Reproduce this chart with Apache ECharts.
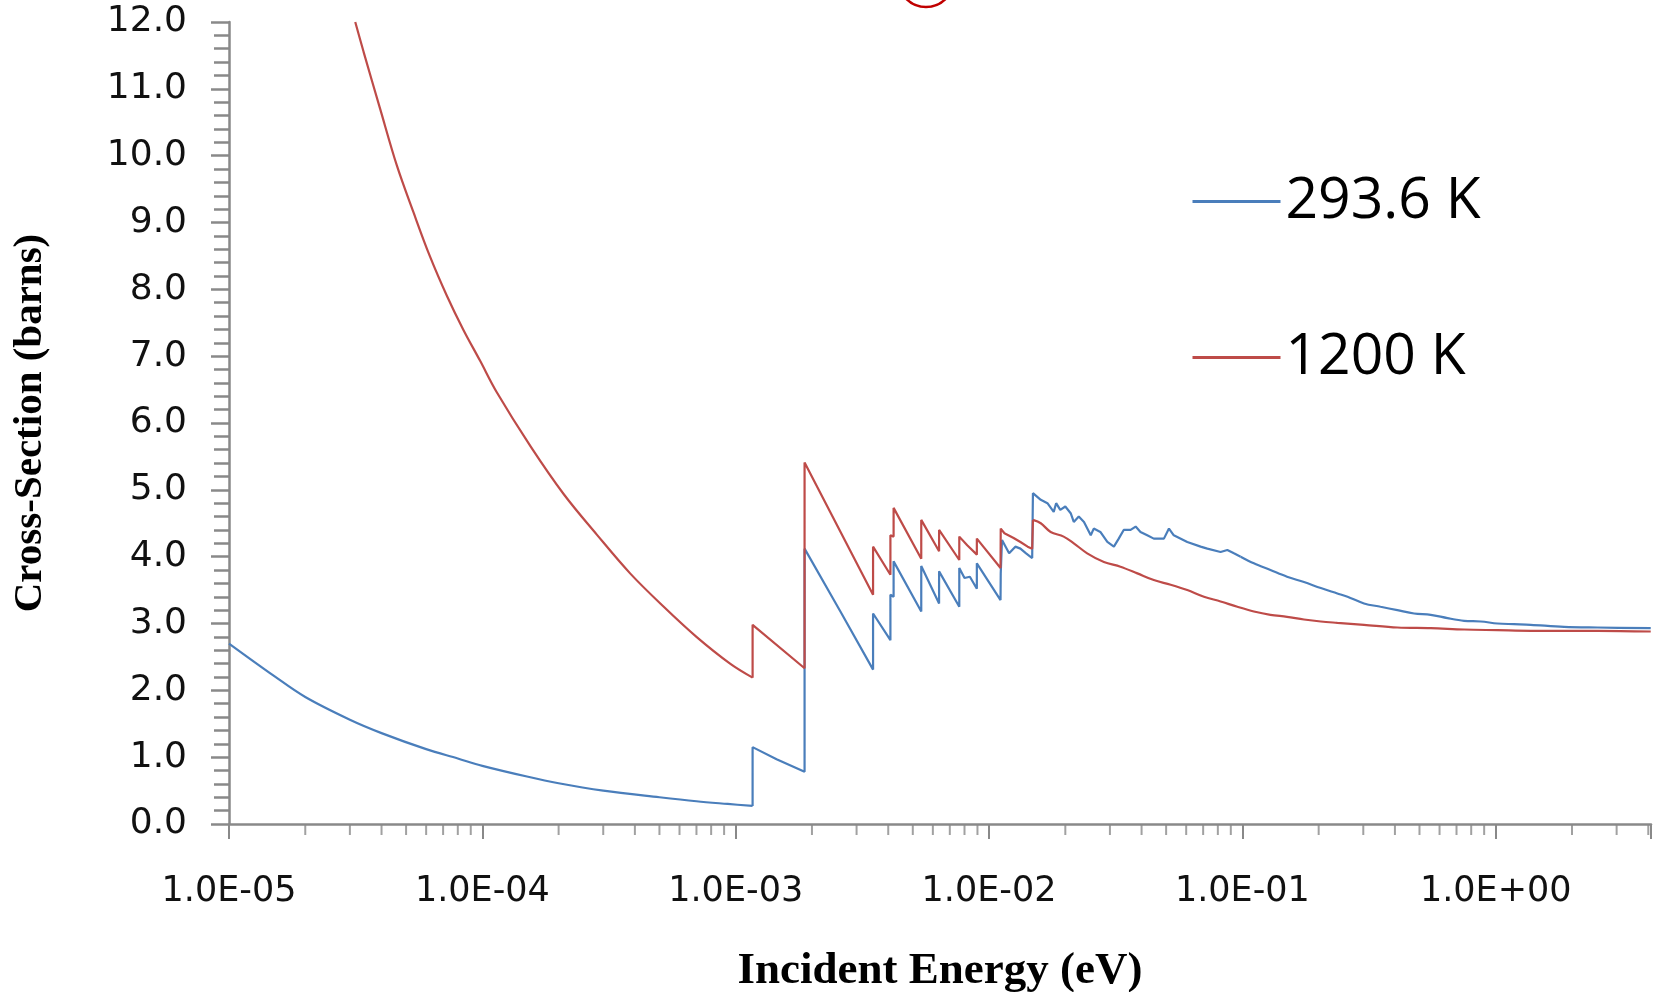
<!DOCTYPE html>
<html><head><meta charset="utf-8">
<script src="https://cdn.jsdelivr.net/npm/echarts@6/dist/echarts.min.js"></script>
<style>html,body{margin:0;padding:0;background:#fff}#c{width:1653px;height:992px}</style>
</head><body><div id="c"></div>
<script>
// ---- data ----
const seriesNames = ['293.6 K', '1200 K'];

const blueE = [1e-5,1.5e-5,2e-5,3e-5,4e-5,6e-5,8e-5,1e-4,1.5e-4,2e-4,3e-4,5e-4,7e-4,9.3e-4,
  1.166e-3,1.166e-3,1.45e-3,1.87e-3,1.87e-3,2.59e-3,3.485e-3,3.485e-3,4.08e-3,4.08e-3,4.2e-3,4.2e-3,
  5.4e-3,5.4e-3,6.35e-3,6.35e-3,7.63e-3,7.63e-3,8.0e-3,8.4e-3,8.95e-3,8.95e-3,
  1.11e-2,1.112e-2,1.125e-2,1.2e-2,1.27e-2,1.33e-2,1.40e-2,1.48e-2,1.49e-2,
  1.6e-2,1.70e-2,1.80e-2,1.84e-2,1.91e-2,2.0e-2,2.10e-2,2.16e-2,2.26e-2,2.37e-2,2.52e-2,2.59e-2,2.75e-2,
  2.93e-2,3.11e-2,3.25e-2,3.40e-2,3.62e-2,3.79e-2,3.96e-2,4.21e-2,4.47e-2,4.9e-2,5.13e-2,5.36e-2,
  6.06e-2,6.84e-2,7.27e-2,8.2e-2,8.72e-2,9.26e-2,9.84e-2,0.111,0.129,0.150,0.175,0.204,0.237,0.26,
  0.302,0.351,0.409,0.476,0.554,0.645,0.75,0.873,1.016,1.18,1.374,1.86,2.52,4.09];
const blueXS = [2.70,2.22,1.90,1.56,1.36,1.12,0.98,0.87,0.71,0.61,0.50,0.40,0.34,0.30,
  0.27,1.15,0.97,0.78,4.12,3.18,2.31,3.15,2.75,3.43,3.40,3.93,
  3.18,3.86,3.30,3.78,3.25,3.83,3.68,3.70,3.52,3.90,
  3.35,3.75,4.25,4.05,4.15,4.12,4.05,3.98,4.95,
  4.85,4.80,4.67,4.80,4.70,4.75,4.65,4.52,4.60,4.52,4.32,4.42,4.37,
  4.22,4.15,4.27,4.40,4.40,4.45,4.37,4.32,4.27,4.27,4.42,4.32,
  4.22,4.15,4.12,4.07,4.10,4.05,4.00,3.90,3.80,3.70,3.62,3.53,3.45,3.40,
  3.30,3.25,3.20,3.15,3.13,3.08,3.04,3.03,3.00,2.99,2.98,2.95,2.94,2.93];

const redE = [3.15e-5,3.4e-5,3.95e-5,4.6e-5,5.35e-5,6.2e-5,7.25e-5,8.4e-5,9.8e-5,1.14e-4,1.55e-4,2.1e-4,
  2.83e-4,3.83e-4,5.2e-4,7.0e-4,9.5e-4,1.166e-3,1.166e-3,1.87e-3,1.87e-3,3.485e-3,3.485e-3,
  4.08e-3,4.08e-3,4.2e-3,4.2e-3,5.4e-3,5.4e-3,6.35e-3,6.35e-3,7.63e-3,7.63e-3,8.2e-3,8.95e-3,8.95e-3,
  1.11e-2,1.112e-2,1.15e-2,1.25e-2,1.33e-2,1.42e-2,1.48e-2,1.49e-2,
  1.6e-2,1.75e-2,1.97e-2,2.16e-2,2.44e-2,2.84e-2,3.3e-2,3.85e-2,4.47e-2,5.21e-2,6.06e-2,7.05e-2,
  8.2e-2,9.55e-2,0.111,0.129,0.150,0.175,0.204,0.237,0.302,0.409,0.554,0.75,1.016,1.374,2.52,4.09];
const redXS = [12.0,11.55,10.7,9.85,9.15,8.5,7.9,7.4,6.93,6.46,5.65,4.93,
  4.33,3.75,3.25,2.80,2.40,2.19,2.98,2.33,5.41,3.43,4.15,
  3.73,4.32,4.30,4.73,3.97,4.55,4.08,4.40,3.95,4.30,4.17,4.03,4.27,
  3.83,4.42,4.35,4.28,4.22,4.15,4.12,4.55,
  4.50,4.37,4.30,4.20,4.05,3.92,3.85,3.75,3.65,3.58,3.50,3.40,
  3.33,3.25,3.18,3.13,3.10,3.06,3.03,3.01,2.98,2.94,2.93,2.91,2.90,2.89,2.89,2.88];

// energies where the smooth parts of each curve meet the Bragg-edge part
const blueBreaks = [1.166e-3, 9.84e-2];
const redBreaks = [1.166e-3, 1.49e-2];

// minor tick positions of the logarithmic energy axis
const minorTickE = [2e-5,3e-5,4e-5,5e-5,6e-5,7e-5,8e-5,9e-5,
  2e-4,3e-4,4e-4,5e-4,6e-4,7e-4,8e-4,9e-4,
  2e-3,3e-3,4e-3,5e-3,6e-3,7e-3,8e-3,9e-3,
  2e-2,3e-2,4e-2,5e-2,6e-2,7e-2,8e-2,9e-2,
  0.2,0.3,0.4,0.5,0.6,0.7,0.8,0.9,
  2,3,4];

const xMin = 1e-5, xMax = 4.1, yMin = 0, yMax = 12, yInterval = 1;

// ---- chart ----
const zip = (a, b) => a.map((v, i) => [v, b[i]]);
function splitAt(E, XS, breaks) {
  const pts = zip(E, XS);
  const idx = breaks.map(b => E.indexOf(b));
  const segs = [];
  let start = 0;
  idx.forEach(i => { segs.push(pts.slice(start, i + 1)); start = i; });
  segs.push(pts.slice(start));
  return segs;
}
function fmtE(v) {
  const e = Math.round(Math.log10(v));
  if (Math.abs(v / Math.pow(10, e) - 1) > 1e-6) return '';
  const a = Math.abs(e);
  return '1.0E' + (e < 0 ? '-' : '+') + (a < 10 ? '0' : '') + a;
}
const axisGrey = '#898989';
const colors = ['#4a7ebb', '#be4b48'];
const smoothFlags = [0.35, false, 0.35];
function curveSeries(name, color, segs, z) {
  return segs.map((d, k) => ({
    name: name, type: 'line', data: d, showSymbol: false, symbol: 'none',
    smooth: smoothFlags[k], lineStyle: {color: color, width: 2.2}, itemStyle: {color: color}, z: z
  }));
}

const chart = echarts.init(document.getElementById('c'), null, {renderer: 'canvas'});
chart.setOption({
  animation: false,
  backgroundColor: '#ffffff',
  grid: {left: 229, right: 2, top: 22, bottom: 168, containLabel: false, outerBoundsMode: 'none'},
  xAxis: {
    type: 'log', logBase: 10, min: xMin, max: xMax,
    name: 'Incident Energy (eV)', nameLocation: 'middle', nameGap: 125,
    nameTextStyle: {fontFamily: 'Liberation Serif', fontWeight: 'bold', fontSize: 45, color: '#000'},
    axisLine: {show: true, onZero: false, lineStyle: {color: axisGrey, width: 2.5}},
    axisTick: {show: true, length: 15, lineStyle: {color: axisGrey, width: 2}},
    minorTick: {show: false},
    splitLine: {show: false},
    axisLabel: {formatter: fmtE, margin: 50, fontFamily: 'DejaVu Sans', fontSize: 35, color: '#111',
      showMinLabel: true, showMaxLabel: true}
  },
  yAxis: {
    type: 'value', min: yMin, max: yMax, interval: yInterval,
    name: 'Cross-Section (barns)', nameLocation: 'middle', nameGap: 178,
    nameTextStyle: {fontFamily: 'Liberation Serif', fontWeight: 'bold', fontSize: 41, color: '#000'},
    axisLine: {show: true, lineStyle: {color: axisGrey, width: 2.5}},
    axisTick: {show: true, length: 18, lineStyle: {color: axisGrey, width: 2.5}},
    minorTick: {show: true, splitNumber: 5, length: 15, lineStyle: {color: axisGrey, width: 2.5}},
    splitLine: {show: false},
    axisLabel: {formatter: v => v.toFixed(1), margin: 42, fontFamily: 'DejaVu Sans', fontSize: 36, color: '#111'}
  },
  legend: {
    show: true, data: seriesNames, orient: 'vertical', left: 1186, top: 168,
    itemWidth: 88, itemHeight: 3, itemGap: 99,
    textStyle: {fontFamily: 'Open Sans', fontSize: 57, color: '#000'},
    lineStyle: {width: 3}
  },
  graphic: [{type: 'circle', shape: {cx: 926, cy: -21, r: 28}, silent: true,
    style: {fill: 'none', stroke: '#c00000', lineWidth: 2.5}}],
  series: [].concat(
    curveSeries(seriesNames[0], colors[0], splitAt(blueE, blueXS, blueBreaks), 3),
    curveSeries(seriesNames[1], colors[1], splitAt(redE, redXS, redBreaks), 4),
    [{name: 'minorTicks', type: 'scatter', data: minorTickE.map(e => [e, yMin]), clip: false, silent: true,
      symbol: 'rect', symbolSize: [2, 11], symbolOffset: [0, '50%'],
      itemStyle: {color: axisGrey}, z: 1}]
  )
});
</script></body></html>
